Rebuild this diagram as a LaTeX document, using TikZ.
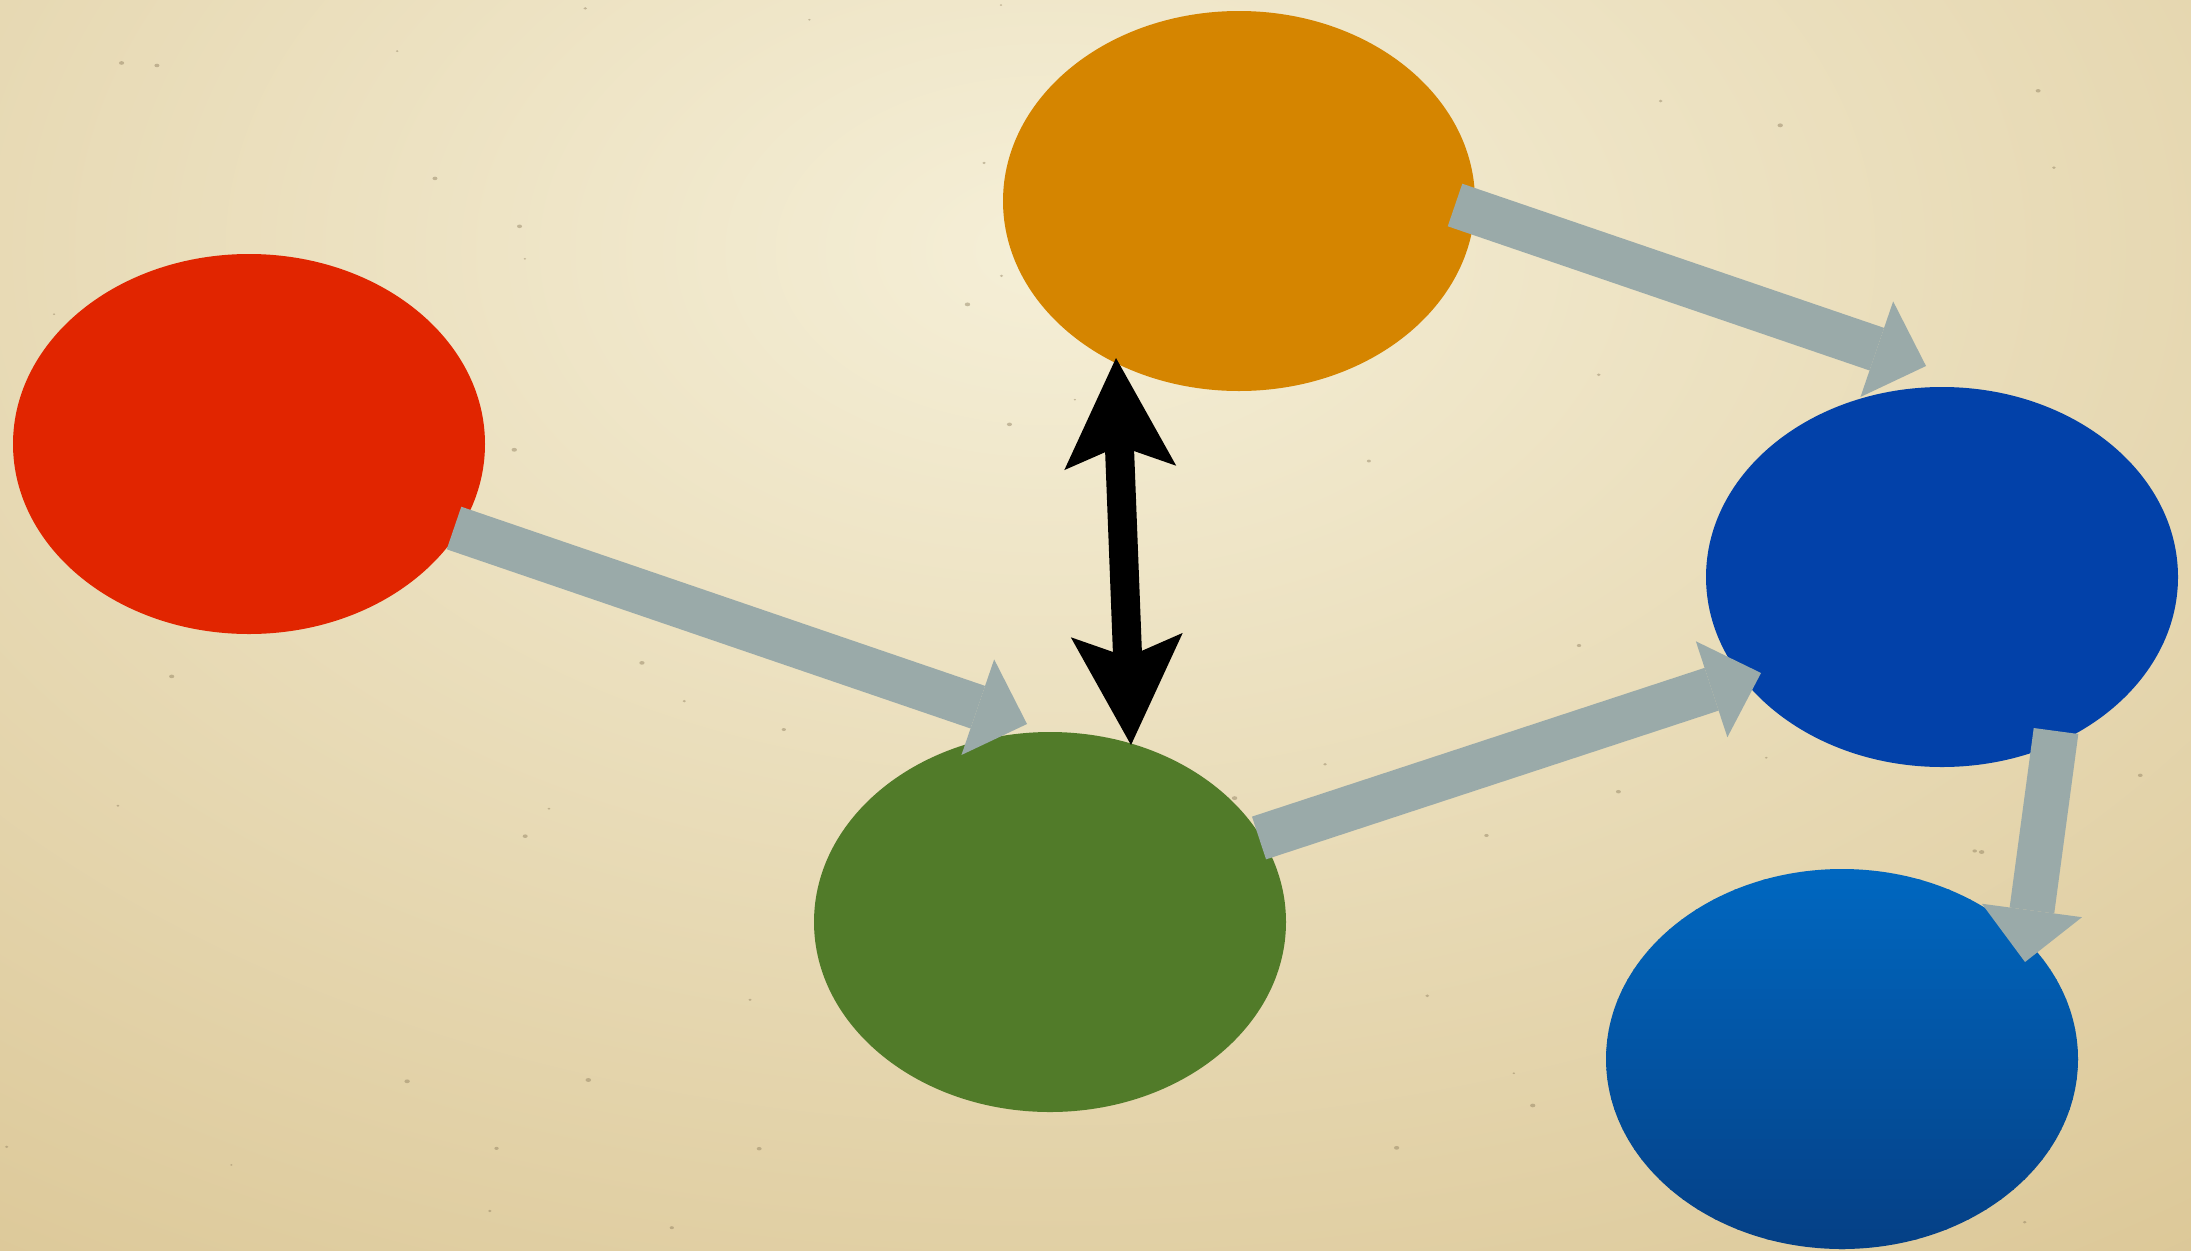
\documentclass[tikz,border=0pt]{standalone}
\usetikzlibrary{shapes.geometric,arrows.meta,calc}

\definecolor{paperlight}{HTML}{F5EFD7}
\definecolor{paperdark}{HTML}{D9C390}
\definecolor{speck}{HTML}{8C7C5C}
\definecolor{nodered}{HTML}{E12500}
\definecolor{nodeorange}{HTML}{D58500}
\definecolor{nodegreen}{HTML}{517B29}
\definecolor{nodeblue}{HTML}{0241A9}
\definecolor{skytop}{HTML}{0067C0}
\definecolor{skybottom}{HTML}{053F84}
\definecolor{linkgray}{HTML}{9AAAA9}

\tikzset{
  blob/.style={ellipse, inner sep=0pt, minimum width=472pt, minimum height=380pt},
  flow/.style={draw=linkgray, line width=45pt,
    -{Triangle[length=52pt, width=101pt, line width=0pt]}},
  swap/.style={draw=black, line width=29pt,
    {Stealth[length=110pt, width=112pt, inset=22pt, line width=0pt]}-{Stealth[length=110pt, width=112pt, inset=22pt, line width=0pt]}}
}

\begin{document}
\begin{tikzpicture}[x=1pt, y=-1pt]
  % parchment background
  \useasboundingbox (0,0) rectangle (2191,1250);
  \fill[paperdark] (0,0) rectangle (2191,1250);
  \begin{scope}
    \clip (0,0) rectangle (2191,1250);
    \shade[inner color=paperlight, outer color=paperdark]
      (-1150,-1150) rectangle (3250,1650);
    % small specks in the paper
    \pgfmathsetseed{4711}
    \foreach \i in {1,...,70}{
      \pgfmathsetmacro{\px}{2191*rnd}
      \pgfmathsetmacro{\py}{1250*rnd}
      \pgfmathsetmacro{\pr}{1.2+1.6*rnd}
      \fill[speck, opacity=0.45] (\px,\py) ellipse ({\pr} and {0.7*\pr});
    }
  \end{scope}

  % nodes
  \node[blob, fill=nodered]    (red)    at (249,444)  {};
  \node[blob, fill=nodeorange] (orange) at (1239,201) {};
  \node[blob, fill=nodegreen]  (green)  at (1050,922) {};
  \node[blob, fill=nodeblue]   (blue)   at (1942,577) {};
  \node[blob] (sky) at (1842,1059) {};
  % vertical gradient of the lower blue node, built from thin bands
  \begin{scope}
    \clip (sky.center) ellipse (236 and 190);
    \foreach \k in {0,...,38}{
      \pgfmathsetmacro{\mix}{100-\k*100/38}
      \fill[skytop!\mix!skybottom]
        ($(sky.center)+(-240,-190+\k*10)$) rectangle ($(sky.center)+(240,-190+\k*10+11)$);
    }
  \end{scope}

  % connector end points
  \coordinate (r-out) at ($(red)+(205,84)$);
  \coordinate (g-in)  at ($(green)+(-23,-198)$);
  \coordinate (o-out) at ($(orange)+(216,4)$);
  \coordinate (b-in)  at ($(blue)+(-16,-211)$);
  \coordinate (g-out) at ($(green)+(209,-84)$);
  \coordinate (b-in2) at ($(blue)+(-181,96)$);
  \coordinate (b-out) at ($(blue)+(114,154)$);
  \coordinate (s-in)  at ($(sky)+(183,-97)$);
  \coordinate (o-tip) at ($(orange)+(-123,157)$);
  \coordinate (g-tip) at ($(green)+(81,-177)$);

  % connectors
  \draw[flow] (r-out) -- (g-in);
  \draw[flow] (o-out) -- (b-in);
  \draw[flow] (g-out) -- (b-in2);
  \draw[flow] (b-out) -- (s-in);
  \draw[swap] (o-tip) -- (g-tip);
\end{tikzpicture}
\end{document}
